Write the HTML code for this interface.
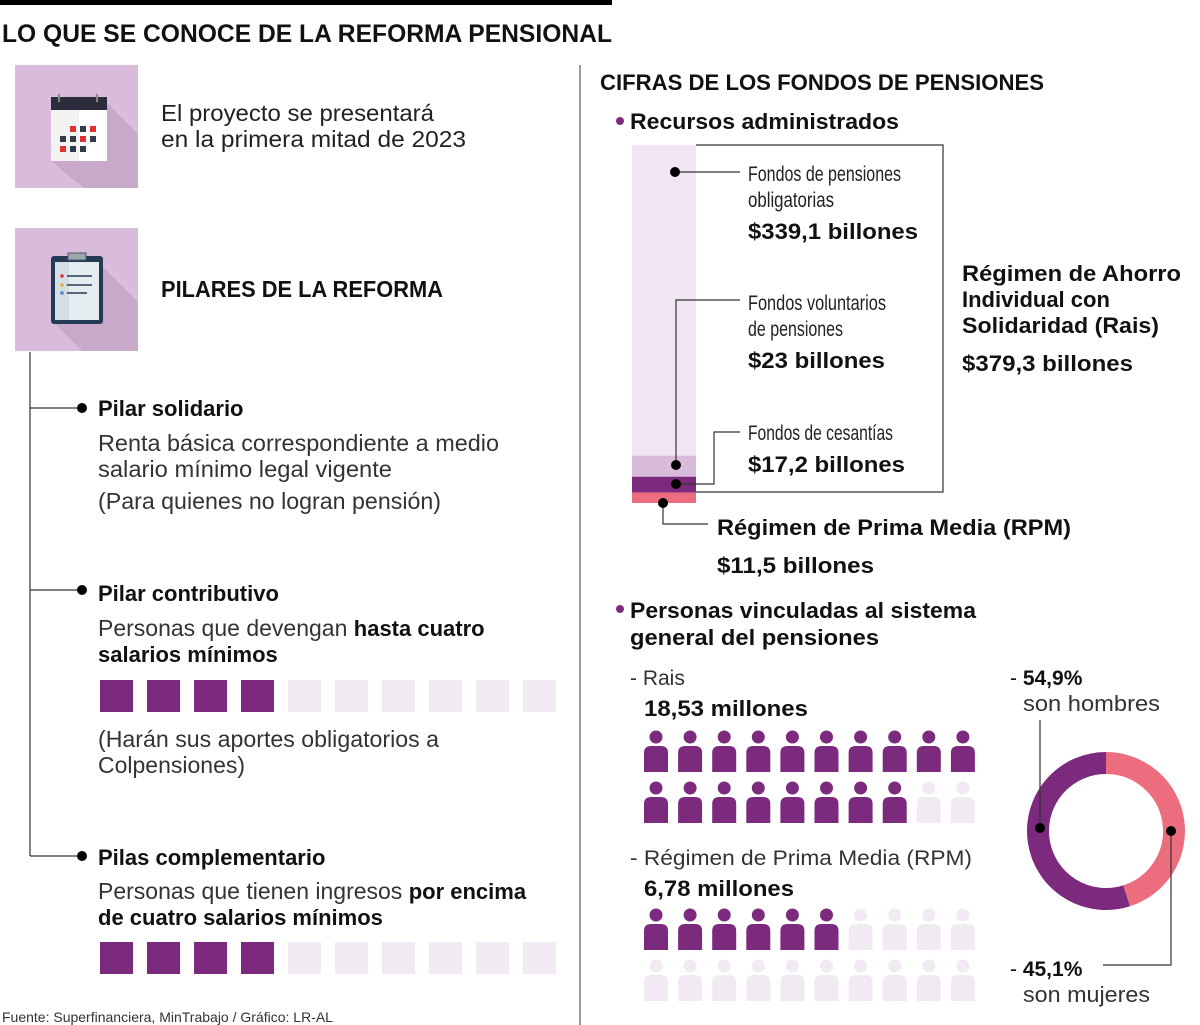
<!DOCTYPE html>
<html><head><meta charset="utf-8"><style>
body{margin:0;background:#fff}
svg{display:block;font-family:"Liberation Sans",sans-serif}
.b{font-weight:bold}
</style></head><body>
<svg id="g" width="1200" height="1025" viewBox="0 0 1200 1025">
<rect x="0" y="0" width="612" height="5" fill="#000"/>
<text x="2" y="42" font-size="25" class="b" fill="#111" textLength="610" lengthAdjust="spacingAndGlyphs">LO QUE SE CONOCE DE LA REFORMA PENSIONAL</text>
<line x1="580" y1="65" x2="580" y2="1025" stroke="#999" stroke-width="2"/>

<g>
<rect x="15" y="65" width="123" height="123" fill="#d9bcdb"/>
<polygon points="107,103 138,134 138,188 84,188 51,161" fill="#c8a9c9"/>
<rect x="51" y="97" width="56" height="64" fill="#f2f2f2"/><rect x="79" y="110" width="28" height="51" fill="#fff"/>
<rect x="51" y="97" width="56" height="13" fill="#2c2c3c"/>
<rect x="58" y="94" width="2" height="8" fill="#888"/><rect x="96" y="94" width="2" height="8" fill="#888"/>
<rect x="70" y="126" width="6" height="6" fill="#e03030"/><rect x="80" y="126" width="6" height="6" fill="#333a48"/><rect x="90" y="126" width="6" height="6" fill="#e03030"/>
<rect x="60" y="136" width="6" height="6" fill="#333a48"/><rect x="70" y="136" width="6" height="6" fill="#333a48"/><rect x="80" y="136" width="6" height="6" fill="#e03030"/><rect x="90" y="136" width="6" height="6" fill="#333a48"/>
<rect x="60" y="146" width="6" height="6" fill="#e03030"/><rect x="70" y="146" width="6" height="6" fill="#333a48"/><rect x="80" y="146" width="6" height="6" fill="#333a48"/>
</g>
<text font-size="23.5" fill="#222"><tspan x="161" y="121" textLength="273" lengthAdjust="spacingAndGlyphs">El proyecto se presentará</tspan><tspan x="161" y="147" textLength="305" lengthAdjust="spacingAndGlyphs">en la primera mitad de 2023</tspan></text>

<g>
<rect x="15" y="228" width="123" height="123" fill="#d9bcdb"/>
<polygon points="100,264 138,302 138,351 82,351 51,320" fill="#c8a9c9"/>
<rect x="51" y="256" width="52" height="68" rx="3" fill="#243a55"/>
<rect x="55" y="262" width="44" height="58" fill="#e4ecf0"/><rect x="55" y="262" width="14" height="58" fill="#d4dee4"/>
<rect x="68" y="253" width="18" height="7" fill="#9aa" stroke="#556" stroke-width="1"/>
<circle cx="62" cy="276" r="1.8" fill="#e03030"/><line x1="67" y1="276" x2="92" y2="276" stroke="#243a55" stroke-width="1.5"/>
<circle cx="62" cy="285" r="1.8" fill="#e8b030"/><line x1="67" y1="285" x2="92" y2="285" stroke="#243a55" stroke-width="1.5"/>
<circle cx="62" cy="293" r="1.8" fill="#4a8ad0"/><line x1="67" y1="293" x2="87" y2="293" stroke="#243a55" stroke-width="1.5"/>
</g>
<text x="161" y="297" font-size="23" class="b" fill="#111" textLength="282" lengthAdjust="spacingAndGlyphs">PILARES DE LA REFORMA</text>

<path d="M30 352 V856 M30 408 H82 M30 590 H82 M30 856 H82" stroke="#333" stroke-width="1.2" fill="none"/>
<circle cx="82" cy="408" r="5" fill="#000"/><circle cx="82" cy="590" r="5" fill="#000"/><circle cx="82" cy="856" r="5" fill="#000"/>

<text x="98" y="416" font-size="22" class="b" fill="#111">Pilar solidario</text>
<text font-size="23" fill="#333"><tspan x="98" y="451" textLength="401" lengthAdjust="spacingAndGlyphs">Renta básica correspondiente a medio</tspan><tspan x="98" y="477" textLength="294" lengthAdjust="spacingAndGlyphs">salario mínimo legal vigente</tspan><tspan x="98" y="509" textLength="343" lengthAdjust="spacingAndGlyphs">(Para quienes no logran pensión)</tspan></text>
<text x="98" y="601" font-size="22" class="b" fill="#111">Pilar contributivo</text>
<text font-size="23" fill="#333"><tspan x="98" y="636">Personas que devengan </tspan><tspan class="b" fill="#111" font-size="22">hasta cuatro</tspan><tspan x="98" y="662" class="b" fill="#111" font-size="22">salarios mínimos</tspan><tspan x="98" y="747" textLength="341" lengthAdjust="spacingAndGlyphs">(Harán sus aportes obligatorios a</tspan><tspan x="98" y="773">Colpensiones)</tspan></text>
<text x="98" y="865" font-size="22" class="b" fill="#111">Pilas complementario</text>
<text font-size="23" fill="#333"><tspan x="98" y="899">Personas que tienen ingresos </tspan><tspan class="b" fill="#111" font-size="22">por encima</tspan><tspan x="98" y="925" class="b" fill="#111" font-size="22">de cuatro salarios mínimos</tspan></text>
<g id="sq"></g>
<text x="2" y="1022" font-size="14" fill="#333">Fuente: Superfinanciera, MinTrabajo / Gráfico: LR-AL</text>

<text x="600" y="90" font-size="22" class="b" fill="#111" textLength="444" lengthAdjust="spacingAndGlyphs">CIFRAS DE LOS FONDOS DE PENSIONES</text>
<circle cx="620" cy="121" r="4" fill="#7b2a7d"/>
<text x="630" y="129" font-size="22" class="b" fill="#111" textLength="269" lengthAdjust="spacingAndGlyphs">Recursos administrados</text>
<g id="bar"></g>
<path d="M696 145 H943 V492 H696" stroke="#333" stroke-width="1.2" fill="none"/>
<path d="M675 172 H740 M676 465 V300 H740 M676 484 H714 V432 H740 M663 503 V524 H708" stroke="#333" stroke-width="1.2" fill="none"/>
<circle cx="675" cy="172" r="5" fill="#000"/><circle cx="676" cy="465" r="5" fill="#000"/><circle cx="676" cy="484" r="5" fill="#000"/><circle cx="663" cy="503" r="5" fill="#000"/>
<g font-size="21" fill="#222">
<text x="748" y="181" textLength="153" lengthAdjust="spacingAndGlyphs">Fondos de pensiones</text>
<text x="748" y="207" textLength="86" lengthAdjust="spacingAndGlyphs">obligatorias</text>
<text x="748" y="310" textLength="138" lengthAdjust="spacingAndGlyphs">Fondos voluntarios</text>
<text x="748" y="336" textLength="95" lengthAdjust="spacingAndGlyphs">de pensiones</text>
<text x="748" y="440" textLength="145" lengthAdjust="spacingAndGlyphs">Fondos de cesantías</text>
</g>
<text x="748" y="239" font-size="22" class="b" fill="#111" textLength="170" lengthAdjust="spacingAndGlyphs">$339,1 billones</text>
<text x="748" y="368" font-size="22" class="b" fill="#111" textLength="137" lengthAdjust="spacingAndGlyphs">$23 billones</text>
<text x="748" y="472" font-size="22" class="b" fill="#111" textLength="157" lengthAdjust="spacingAndGlyphs">$17,2 billones</text>
<text font-size="22" class="b" fill="#111"><tspan x="962" y="281" textLength="219" lengthAdjust="spacingAndGlyphs">Régimen de Ahorro</tspan><tspan x="962" y="307">Individual con</tspan><tspan x="962" y="333" textLength="197" lengthAdjust="spacingAndGlyphs">Solidaridad (Rais)</tspan><tspan x="962" y="371" textLength="171" lengthAdjust="spacingAndGlyphs">$379,3 billones</tspan></text>
<text font-size="22" class="b" fill="#111"><tspan x="717" y="535" textLength="354" lengthAdjust="spacingAndGlyphs">Régimen de Prima Media (RPM)</tspan><tspan x="717" y="573" textLength="157" lengthAdjust="spacingAndGlyphs">$11,5 billones</tspan></text>

<circle cx="620" cy="609" r="4" fill="#7b2a7d"/>
<text font-size="22" class="b" fill="#111"><tspan x="630" y="618" textLength="346" lengthAdjust="spacingAndGlyphs">Personas vinculadas al sistema</tspan><tspan x="630" y="645" textLength="249" lengthAdjust="spacingAndGlyphs">general del pensiones</tspan></text>
<text x="630" y="685" font-size="21" fill="#333">- Rais</text>
<text x="644" y="716" font-size="22" class="b" fill="#111" textLength="164" lengthAdjust="spacingAndGlyphs">18,53 millones</text>
<text x="630" y="865" font-size="21" fill="#333" textLength="342" lengthAdjust="spacingAndGlyphs">- Régimen de Prima Media (RPM)</text>
<text x="644" y="896" font-size="22" class="b" fill="#111" textLength="150" lengthAdjust="spacingAndGlyphs">6,78 millones</text>
<g id="ppl"></g>
<g id="donut"></g>
<path d="M1040 828 V720 M1171 831 V965 H1103" stroke="#333" stroke-width="1.2" fill="none"/>
<circle cx="1040" cy="828" r="5" fill="#000"/><circle cx="1171" cy="831" r="5" fill="#000"/>
<text x="1010" y="685" font-size="21" fill="#111">- <tspan class="b">54,9%</tspan></text>
<text x="1023" y="711" font-size="22" fill="#333" textLength="137" lengthAdjust="spacingAndGlyphs">son hombres</text>
<text x="1010" y="976" font-size="21" fill="#111">- <tspan class="b">45,1%</tspan></text>
<text x="1023" y="1002" font-size="22" fill="#333" textLength="127" lengthAdjust="spacingAndGlyphs">son mujeres</text>
</svg>
<script>
const NS='http://www.w3.org/2000/svg';
const fundLabels=['Obligatorias','Voluntarios','Cesantías','RPM'];
const fundValues=[339.1,23,17.2,11.5];
const fundColors=['#efe6f2','#d9bcdb','#7b2a7d','#ec6d7d'];
const squareFilled=[4,4];
const squareTotal=10;
const peopleMillions=[18.53,6.78];
const genderLabels=['Hombres','Mujeres'];
const genderShares=[54.9,45.1];
function mk(t,a,p){const e=document.createElementNS(NS,t);for(const k in a)e.setAttribute(k,a[k]);p.appendChild(e);return e;}
const bar=document.getElementById('bar');
const tot=fundValues.reduce((a,b)=>a+b,0);const y0=145,H=358;let y=y0;
fundValues.forEach((v,i)=>{const h=v/tot*H;const r=mk('rect',{x:632,y:y,width:64,height:h,fill:fundColors[i]},bar);

y+=h;});
const sq=document.getElementById('sq');const rowsY=[680,942];
squareFilled.forEach((f,r)=>{for(let i=0;i<squareTotal;i++){const e=mk('rect',{x:100+i*47,y:rowsY[r],width:33,height:32,fill:i<f?'#7b2a7d':'#f1eaf3'},sq);

}});
const ppl=document.getElementById('ppl');const blockY=[730,908];
peopleMillions.forEach((m,b)=>{const n=Math.floor(m);for(let k=0;k<20;k++){const c=k%10,r=Math.floor(k/10);
const x=644+c*34.1,yy=blockY[b]+r*51;const col=k<n?'#7b2a7d':'#f1eaf3';
const g=mk('g',{},ppl);


mk('circle',{cx:x+12,cy:yy+7,r:6.5,fill:col},g);
mk('path',{d:`M${x} ${yy+42} V${yy+23} Q${x} ${yy+16} ${x+7} ${yy+16} H${x+17} Q${x+24} ${yy+16} ${x+24} ${yy+23} V${yy+42} Z`,fill:col},g);}});
const dn=document.getElementById('donut');const cx=1106,cy=831,R=68,w=22;
const order=[[genderShares[1],'#ec6d7d',genderLabels[1]],[genderShares[0],'#7b2a7d',genderLabels[0]]];
let start=0;
order.forEach(([s,col,lab])=>{const sa=start/100*2*Math.PI,ea=(start+s)/100*2*Math.PI;
const p1=[cx+R*Math.sin(sa),cy-R*Math.cos(sa)],p2=[cx+R*Math.sin(ea),cy-R*Math.cos(ea)];
const e=mk('path',{d:`M${p1[0]} ${p1[1]} A${R} ${R} 0 ${s>50?1:0} 1 ${p2[0]} ${p2[1]}`,stroke:col,'stroke-width':w,fill:'none'},dn);

start+=s;});
</script>
</body></html>
